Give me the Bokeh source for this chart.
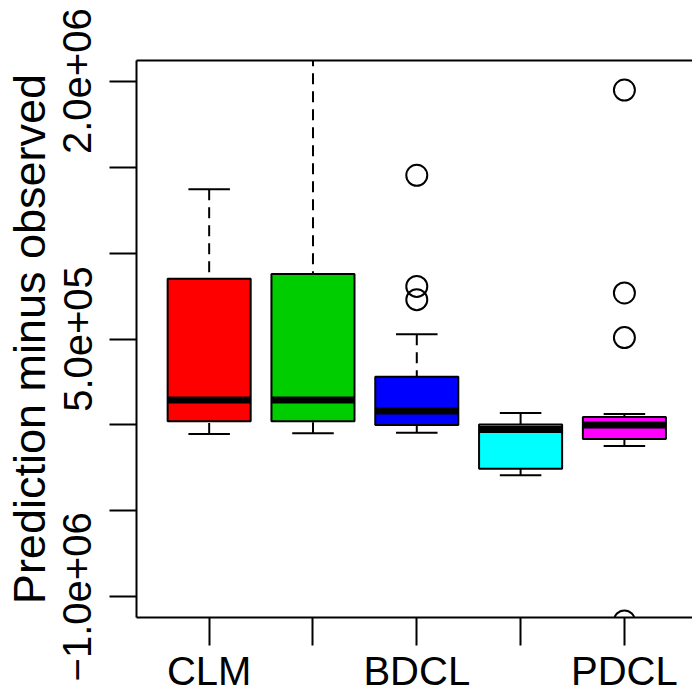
from bokeh.plotting import figure
from bokeh.models import FixedTicker, LinearAxis, Range1d
from bokeh.embed import file_html
from bokeh.resources import INLINE

# ---- data ----
positions = [1, 2, 3, 4, 5]
x_tick_labels = ["CLM", "", "BDCL", "", "PDCL"]
box_colors = ["#FF0000", "#00CD00", "#0000FF", "#00FFFF", "#FF00FF"]
whisker_low = [-52000, -48000, -46000, -293000, -123000]
q1 = [21000, 21000, 0, -255000, -81000]
median = [145000, 145000, 81000, -26000, 0]
q3 = [851000, 878000, 280000, 3000, 46000]
whisker_high = [1371000, 2150000, 527000, 69000, 64000]
outlier_x = [3, 3, 3, 5, 5, 5, 5]
outlier_y = [1452000, 806000, 729000, 1948000, 768000, 508000, -1140000]
y_ticks = [-1000000, -500000, 0, 500000, 1000000, 1500000, 2000000]
y_tick_labels = ["\u22121.0e+06", "", "", "5.0e+05", "", "", "2.0e+06"]
y_label = "Prediction minus observed"

FONT = "Liberation Sans"
BOXWEX = 0.8
STAPLE = 0.4

p = figure(width=692, height=695,
           x_range=Range1d(0.3, 5.656), y_range=Range1d(-1.12e6, 2.12e6),
           output_backend="svg", toolbar_location=None,
           min_border_left=135, min_border_right=0,
           min_border_top=60, min_border_bottom=76)
p.outline_line_color = None
p.grid.visible = False
p.background_fill_color = "white"
p.border_fill_color = "white"

# whiskers (dashed)
p.segment(x0=positions, x1=positions, y0=whisker_high, y1=q3,
          line_color="black", line_width=2, line_dash="11 7")
p.segment(x0=positions, x1=positions, y0=whisker_low, y1=q1,
          line_color="black", line_width=2, line_dash="11 7")
# staples
p.segment(x0=[x - STAPLE / 2 for x in positions], x1=[x + STAPLE / 2 for x in positions],
          y0=whisker_high, y1=whisker_high, line_color="black", line_width=2)
p.segment(x0=[x - STAPLE / 2 for x in positions], x1=[x + STAPLE / 2 for x in positions],
          y0=whisker_low, y1=whisker_low, line_color="black", line_width=2)
# boxes
p.vbar(x=positions, width=BOXWEX, bottom=q1, top=q3,
       fill_color=box_colors, line_color="black", line_width=2)
# medians
p.segment(x0=[x - BOXWEX / 2 for x in positions], x1=[x + BOXWEX / 2 for x in positions],
          y0=median, y1=median, line_color="black", line_width=7)
# outliers
p.scatter(outlier_x, outlier_y, marker="circle", size=21,
          fill_color=None, line_color="black", line_width=2)

# x axis
xa = p.xaxis[0]
xa.ticker = FixedTicker(ticks=positions)
xa.major_label_overrides = {pos: lab for pos, lab in zip(positions, x_tick_labels)}
xa.major_tick_out = 28
xa.major_tick_in = 0
xa.minor_tick_line_color = None
xa.axis_line_width = 2
xa.major_tick_line_width = 2
xa.major_label_text_font = FONT
xa.major_label_text_font_size = "40px"
xa.major_label_text_color = "black"
xa.major_label_standoff = 3

# y axis
ya = p.yaxis[0]
ya.ticker = FixedTicker(ticks=y_ticks)
ya.major_label_overrides = {t: lab for t, lab in zip(y_ticks, y_tick_labels)}
ya.major_label_orientation = "parallel"
ya.major_tick_out = 27
ya.major_tick_in = 0
ya.minor_tick_line_color = None
ya.axis_line_width = 2
ya.major_tick_line_width = 2
ya.major_label_text_font = FONT
ya.major_label_text_font_size = "40px"
ya.major_label_text_color = "black"
ya.major_label_standoff = 18
ya.axis_label = y_label
ya.axis_label_text_font = FONT
ya.axis_label_text_font_size = "45px"
ya.axis_label_text_font_style = "normal"
ya.axis_label_text_color = "black"
ya.axis_label_standoff = 6

# top frame line
top = LinearAxis(ticker=FixedTicker(ticks=[]), axis_line_width=2,
                 major_tick_out=0, major_tick_in=0, minor_tick_out=0, minor_tick_in=0,
                 major_label_text_font_size="0px", major_label_standoff=0)
p.add_layout(top, "above")

open("out.html", "w").write(file_html(p, INLINE))
